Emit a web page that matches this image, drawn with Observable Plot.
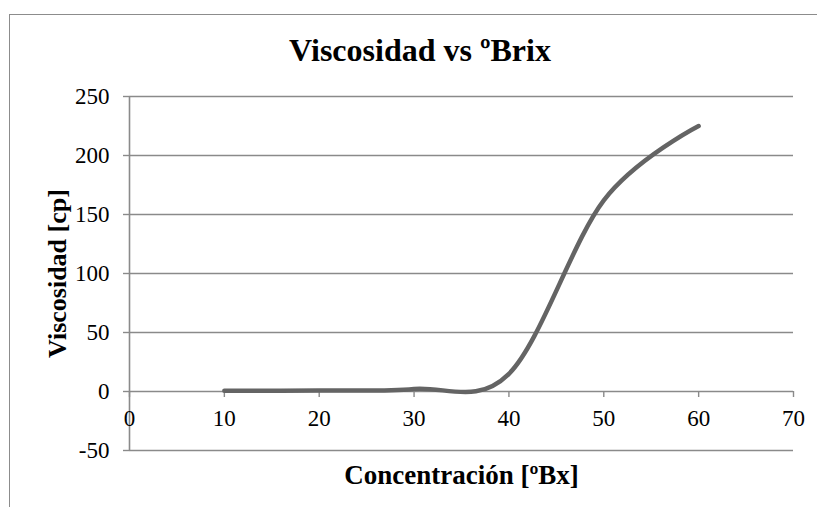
<!DOCTYPE html>
<html>
<head>
<meta charset="utf-8">
<script src="https://cdn.jsdelivr.net/npm/d3@7"></script>
<script src="https://cdn.jsdelivr.net/npm/@observablehq/plot@0.6"></script>
<style>
  html, body { margin: 0; padding: 0; background: #fff; }
  #wrap { position: relative; width: 817px; height: 507px; overflow: hidden; }
  #border { position: absolute; left: 9px; top: 14px; width: 820px; height: 520px;
            border-left: 1px solid #8c8c8c; border-top: 1px solid #8c8c8c; pointer-events: none; }
</style>
</head>
<body>
<div id="wrap"></div>
<script>
// Data
const concentracion = [10, 20, 30, 40, 50, 60];
const viscosidad = [0.6, 0.9, 2.2, 15, 162, 225];
const xTicks = [0, 10, 20, 30, 40, 50, 60, 70];
const yTicks = [-50, 0, 50, 100, 150, 200, 250];
const title = "Viscosidad vs ºBrix";
const xTitle = "Concentración [ºBx]";
const yTitle = "Viscosidad [cp]";

const data = concentracion.map((x, i) => ({x, y: viscosidad[i]}));
const grid = "#8a8a8a";
const font = "'Liberation Serif', 'Times New Roman', serif";

const chart = Plot.plot({
  width: 817,
  height: 507,
  marginLeft: 129,
  marginRight: 24,
  marginTop: 96,
  marginBottom: 57,
  style: {background: "transparent", fontFamily: font, color: "#000", overflow: "visible"},
  x: {domain: [0, 70], axis: null},
  y: {domain: [-50, 250], axis: null},
  marks: [
    Plot.ruleY(yTicks, {stroke: grid, strokeWidth: 1.4}),
    Plot.ruleX([0], {stroke: grid, strokeWidth: 1.6}),
    Plot.axisY({ticks: yTicks, tickSize: 6, tickPadding: 14, fontSize: 23, stroke: grid,
                strokeWidth: 1.4, label: null, tickFormat: d => String(d), fill: "#000"}),
    Plot.ruleX(xTicks, {x: d => d, y1: 0, y2: 0, insetBottom: -6, stroke: grid, strokeWidth: 1.4}),
    Plot.text(xTicks, {x: d => d, y: 0, text: d => String(d), dy: 27, lineAnchor: "middle",
                       fontSize: 23, fill: "#000"}),
    Plot.line(data, {x: "x", y: "y", curve: "cardinal", tension: 0, stroke: "#646464",
                     strokeWidth: 4.5, strokeLinecap: "round", strokeLinejoin: "round"}),
    Plot.text([title], {frameAnchor: "top", dx: -41.5, dy: -36, lineAnchor: "bottom",
                        fontSize: 32, fontWeight: "bold", fill: "#000"}),
    Plot.text([xTitle], {frameAnchor: "bottom", dy: 33, lineAnchor: "bottom",
                         fontSize: 27, fontWeight: "bold", fill: "#000"}),
    Plot.text([yTitle], {frameAnchor: "left", dx: -71.5, rotate: -90, lineAnchor: "middle",
                         textAnchor: "middle", fontSize: 26, fontWeight: "bold", fill: "#000"})
  ]
});

const wrap = document.getElementById("wrap");
wrap.appendChild(chart);
const b = document.createElement("div");
b.id = "border";
wrap.appendChild(b);
</script>
</body>
</html>
